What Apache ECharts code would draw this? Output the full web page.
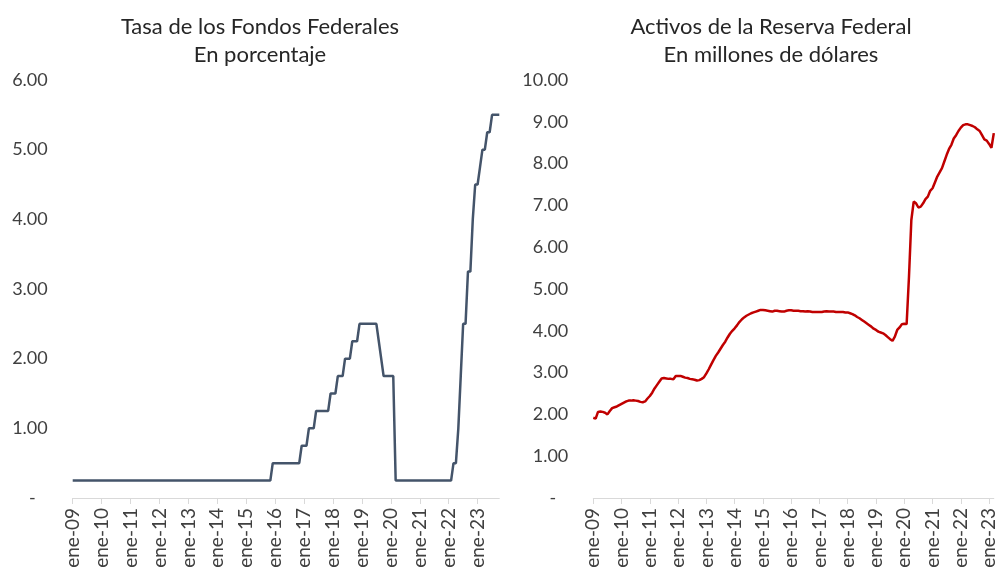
<!DOCTYPE html>
<html>
<head>
    <meta charset="utf-8">
    <title>Fed</title>
    <script src="https://cdn.jsdelivr.net/npm/echarts@6/dist/echarts.min.js"></script>
    <style>
        html, body { margin: 0; padding: 0; background: #fff; }
    </style>
</head>
<body>
<div id="main" style="width: 995px; height: 567px;"></div>
<script type="text/javascript">
    // meses en español para las categorías
    var mesesAbr = ['ene', 'feb', 'mar', 'abr', 'may', 'jun', 'jul', 'ago', 'sep', 'oct', 'nov', 'dic'];

    // Tasa de los Fondos Federales (límite superior, %), ene-09 a oct-23
    var tasaFondos = [].concat(
        // 2009 - 2015 (hasta nov-15)
        [0.25, 0.25, 0.25, 0.25, 0.25, 0.25, 0.25, 0.25, 0.25, 0.25, 0.25, 0.25],
        [0.25, 0.25, 0.25, 0.25, 0.25, 0.25, 0.25, 0.25, 0.25, 0.25, 0.25, 0.25],
        [0.25, 0.25, 0.25, 0.25, 0.25, 0.25, 0.25, 0.25, 0.25, 0.25, 0.25, 0.25],
        [0.25, 0.25, 0.25, 0.25, 0.25, 0.25, 0.25, 0.25, 0.25, 0.25, 0.25, 0.25],
        [0.25, 0.25, 0.25, 0.25, 0.25, 0.25, 0.25, 0.25, 0.25, 0.25, 0.25, 0.25],
        [0.25, 0.25, 0.25, 0.25, 0.25, 0.25, 0.25, 0.25, 0.25, 0.25, 0.25, 0.25],
        [0.25, 0.25, 0.25, 0.25, 0.25, 0.25, 0.25, 0.25, 0.25, 0.25, 0.25, 0.50],
        // 2016
        [0.50, 0.50, 0.50, 0.50, 0.50, 0.50, 0.50, 0.50, 0.50, 0.50, 0.50, 0.75],
        // 2017
        [0.75, 0.75, 1.00, 1.00, 1.00, 1.25, 1.25, 1.25, 1.25, 1.25, 1.25, 1.50],
        // 2018
        [1.50, 1.50, 1.75, 1.75, 1.75, 2.00, 2.00, 2.00, 2.25, 2.25, 2.25, 2.50],
        // 2019
        [2.50, 2.50, 2.50, 2.50, 2.50, 2.50, 2.50, 2.25, 2.00, 1.75, 1.75, 1.75],
        // 2020
        [1.75, 1.75, 0.25, 0.25, 0.25, 0.25, 0.25, 0.25, 0.25, 0.25, 0.25, 0.25],
        // 2021
        [0.25, 0.25, 0.25, 0.25, 0.25, 0.25, 0.25, 0.25, 0.25, 0.25, 0.25, 0.25],
        // 2022
        [0.25, 0.25, 0.50, 0.50, 1.00, 1.75, 2.50, 2.50, 3.25, 3.25, 4.00, 4.50],
        // 2023 (hasta oct)
        [4.50, 4.75, 5.00, 5.00, 5.25, 5.25, 5.50, 5.50, 5.50, 5.50]
    );

    // Activos de la Reserva Federal, ene-09 a mar-23
    var activosFed = [].concat(
        [1.92, 1.90, 2.06, 2.07, 2.06, 2.04, 2.00, 2.08, 2.15, 2.17, 2.19, 2.22], // 2009
        [2.25, 2.28, 2.31, 2.33, 2.33, 2.34, 2.33, 2.32, 2.30, 2.29, 2.31, 2.38], // 2010
        [2.44, 2.52, 2.62, 2.70, 2.78, 2.86, 2.87, 2.86, 2.85, 2.85, 2.84, 2.92], // 2011
        [2.92, 2.92, 2.90, 2.88, 2.87, 2.85, 2.84, 2.83, 2.81, 2.82, 2.85, 2.89], // 2012
        [2.98, 3.08, 3.19, 3.30, 3.40, 3.48, 3.57, 3.66, 3.74, 3.84, 3.93, 4.00], // 2013
        [4.06, 4.13, 4.21, 4.27, 4.32, 4.36, 4.39, 4.42, 4.44, 4.46, 4.48, 4.50], // 2014
        [4.50, 4.49, 4.48, 4.47, 4.46, 4.48, 4.48, 4.47, 4.46, 4.46, 4.48, 4.49], // 2015
        [4.49, 4.48, 4.48, 4.48, 4.47, 4.47, 4.46, 4.47, 4.46, 4.45, 4.45, 4.45], // 2016
        [4.45, 4.45, 4.46, 4.47, 4.46, 4.46, 4.46, 4.45, 4.45, 4.45, 4.45, 4.44], // 2017
        [4.44, 4.42, 4.40, 4.37, 4.33, 4.30, 4.26, 4.22, 4.18, 4.14, 4.10, 4.05], // 2018
        [4.02, 3.98, 3.96, 3.94, 3.90, 3.85, 3.80, 3.76, 3.86, 4.02, 4.08, 4.16], // 2019
        [4.17, 4.16, 5.30, 6.65, 7.09, 7.05, 6.95, 6.97, 7.05, 7.15, 7.21, 7.35], // 2020
        [7.41, 7.55, 7.69, 7.79, 7.89, 8.05, 8.21, 8.35, 8.45, 8.60, 8.68, 8.78], // 2021
        [8.86, 8.92, 8.94, 8.94, 8.92, 8.90, 8.87, 8.82, 8.78, 8.68, 8.58, 8.55], // 2022
        [8.47, 8.38, 8.73]                                                         // 2023
    );

    function mesesDesde2009(n) {
        var out = [];
        for (var i = 0; i < n; i++) {
            var y = 9 + Math.floor(i / 12);
            out.push(mesesAbr[i % 12] + '-' + (y < 10 ? '0' + y : '' + y));
        }
        return out;
    }
    var mesesTasa = mesesDesde2009(tasaFondos.length);
    var mesesActivos = mesesDesde2009(activosFed.length);

    var fuente = 'Lato';
    var colorTexto = '#404040';

    function cadaEnero(idx) {
        return idx % 12 === 0;
    }
    function etiquetaY(v) {
        return v === 0 ? '{d|-}' : v.toFixed(2);
    }

    function ejeX(idx, cats) {
        return {
            type: 'category',
            gridIndex: idx,
            data: cats,
            boundaryGap: false,
            axisLine: { lineStyle: { color: '#d9d9d9', width: 1 } },
            axisTick: { interval: cadaEnero, length: 6, lineStyle: { color: '#d9d9d9' } },
            axisLabel: {
                interval: cadaEnero,
                rotate: 90,
                margin: 10,
                color: colorTexto,
                fontFamily: fuente,
                fontSize: 19
            }
        };
    }

    function ejeY(idx, max, padDash) {
        return {
            type: 'value',
            gridIndex: idx,
            min: 0,
            max: max,
            interval: 1,
            splitLine: { show: false },
            axisLine: { show: false },
            axisTick: { show: false },
            axisLabel: {
                formatter: etiquetaY,
                color: colorTexto,
                fontFamily: fuente,
                fontSize: 18,
                margin: 25,
                rich: {
                    d: { color: colorTexto, fontFamily: fuente, fontSize: 18, padding: [0, padDash, 0, 0] }
                }
            }
        };
    }

    var myChart = echarts.init(document.getElementById('main'));

    var estiloTitulo = { color: '#262626', fontFamily: fuente, fontWeight: 'normal', fontSize: 22, lineHeight: 28 };

    var option = {
        backgroundColor: '#ffffff',
        animation: false,
        title: [
            {
                text: 'Tasa de los Fondos Federales\nEn porcentaje',
                left: 255,
                top: 8,
                textAlign: 'center',
                textStyle: estiloTitulo
            },
            {
                text: 'Activos de la Reserva Federal\nEn millones de dólares',
                left: 766,
                top: 8,
                textAlign: 'center',
                textStyle: estiloTitulo
            }
        ],
        grid: [
            { left: 72.7, right: 495.7, top: 80, bottom: 69, containLabel: false, outerBoundsMode: 'none' },
            { left: 593.3, right: 1.2, top: 80, bottom: 69, containLabel: false, outerBoundsMode: 'none' }
        ],
        xAxis: [ejeX(0, mesesTasa), ejeX(1, mesesActivos)],
        yAxis: [ejeY(0, 6, 12), ejeY(1, 10, 12)],
        series: [
            {
                name: 'Tasa de los Fondos Federales',
                type: 'line',
                xAxisIndex: 0,
                yAxisIndex: 0,
                data: tasaFondos,
                showSymbol: false,
                lineStyle: { color: '#44546a', width: 2.5 }
            },
            {
                name: 'Activos de la Reserva Federal',
                type: 'line',
                xAxisIndex: 1,
                yAxisIndex: 1,
                data: activosFed,
                showSymbol: false,
                lineStyle: { color: '#c00000', width: 2.5 }
            }
        ]
    };

    myChart.setOption(option);
</script>
</body>
</html>
